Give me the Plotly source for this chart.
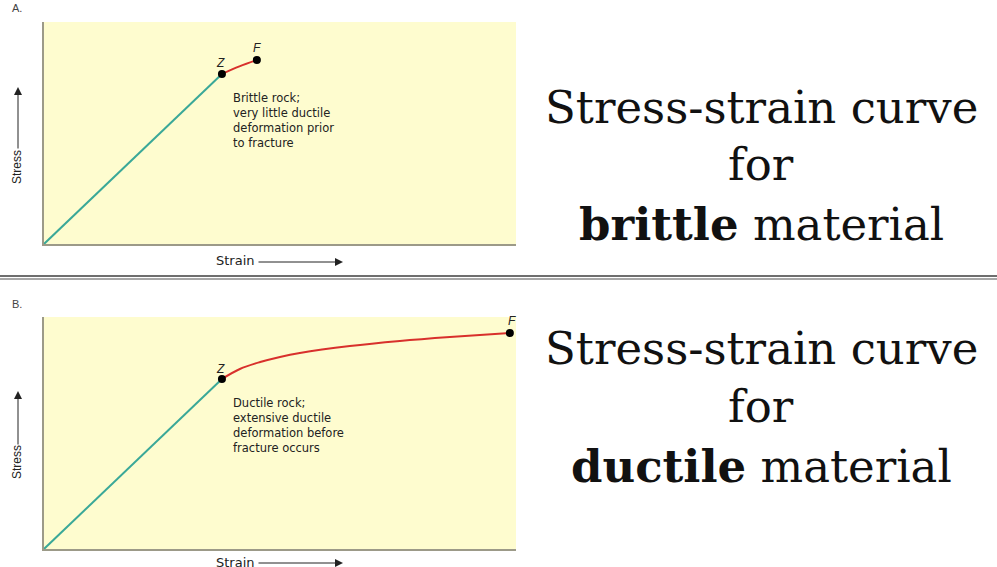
import plotly.graph_objects as go

W, H = 997, 567

# ---- data (strain, stress in arbitrary units 0-100) ----
brittle_elastic_x = [0, 37.7]
brittle_elastic_y = [0, 76.6]
brittle_plastic_x = [37.7, 41.4, 45.1]
brittle_plastic_y = [76.6, 80.0, 82.9]

ductile_elastic_x = [0, 37.7]
ductile_elastic_y = [0, 73.3]
ductile_plastic_x = [37.7, 41.5, 45.8, 50.0, 54.2, 64.8, 75.4, 86.0, 98.7]
ductile_plastic_y = [73.3, 77.6, 80.6, 82.8, 84.5, 87.5, 89.7, 91.4, 93.1]

point_labels = ["Z", "F"]
brittle_note = ["Brittle rock;", "very little ductile", "deformation prior", "to fracture"]
ductile_note = ["Ductile rock;", "extensive ductile", "deformation before", "fracture occurs"]
brittle_title = ["Stress-strain curve", "for", "<b>brittle</b> material"]
ductile_title = ["Stress-strain curve", "for", "<b>ductile</b> material"]

TEAL = "#3aa898"
RED = "#d8302c"
YELLOW = "#fefccf"
AXIS = "#9c9a88"


def px(x):
    return x / W


def py(y):
    return 1 - y / H


fig = go.Figure()

panels = [
    dict(xa="x", ya="y", ex=brittle_elastic_x, ey=brittle_elastic_y,
         pxs=brittle_plastic_x, pys=brittle_plastic_y),
    dict(xa="x2", ya="y2", ex=ductile_elastic_x, ey=ductile_elastic_y,
         pxs=ductile_plastic_x, pys=ductile_plastic_y),
]

for p in panels:
    fig.add_trace(go.Scatter(x=p["ex"], y=p["ey"], mode="lines",
                             line=dict(color=TEAL, width=2),
                             xaxis=p["xa"], yaxis=p["ya"], hoverinfo="skip",
                             cliponaxis=False))
    fig.add_trace(go.Scatter(x=p["pxs"], y=p["pys"], mode="lines",
                             line=dict(color=RED, width=2, shape="spline"),
                             xaxis=p["xa"], yaxis=p["ya"], hoverinfo="skip",
                             cliponaxis=False))
    fig.add_trace(go.Scatter(x=[p["pxs"][0], p["pxs"][-1]],
                             y=[p["pys"][0], p["pys"][-1]],
                             mode="markers",
                             marker=dict(color="black", size=8),
                             xaxis=p["xa"], yaxis=p["ya"], hoverinfo="skip",
                             cliponaxis=False))

axis_common = dict(range=[0, 100], showgrid=False, zeroline=False,
                   showticklabels=False, ticks="", showline=True,
                   linecolor=AXIS, linewidth=1.5, mirror=False, fixedrange=True)

fig.update_layout(
    width=W, height=H,
    margin=dict(l=0, r=0, t=0, b=0),
    paper_bgcolor="white",
    plot_bgcolor=YELLOW,
    showlegend=False,
    xaxis=dict(domain=[px(44), px(516)], anchor="y", **axis_common),
    yaxis=dict(domain=[py(244), py(22)], anchor="x", **axis_common),
    xaxis2=dict(domain=[px(44), px(516)], anchor="y2", **axis_common),
    yaxis2=dict(domain=[py(549), py(317)], anchor="x2", **axis_common),
)

ann = []
sans = "DejaVu Sans"

# Z / F point labels
for (xa, ya, xs, ys, shifts) in [
    ("x", "y", brittle_plastic_x, brittle_plastic_y, [(-1, 11), (0, 12)]),
    ("x2", "y2", ductile_plastic_x, ductile_plastic_y, [(-1, 10), (2, 12)]),
]:
    for lab, xv, yv, (dx, dy) in zip(point_labels, [xs[0], xs[-1]], [ys[0], ys[-1]], shifts):
        ann.append(dict(x=xv, y=yv, xref=xa, yref=ya, text=f"<i>{lab}</i>",
                        showarrow=False, xshift=dx, yshift=dy,
                        xanchor="center", yanchor="middle",
                        font=dict(family="Liberation Sans", size=12, color="#222")))

# descriptive notes
for lines, y_top in [(brittle_note, 89), (ductile_note, 394)]:
    ann.append(dict(x=px(231), y=py(y_top), xref="paper", yref="paper",
                    xanchor="left", yanchor="top", align="left",
                    text="<br>".join(lines), showarrow=False,
                    font=dict(family=sans, size=11.5, color="#222")))

# panel tags
for t, yc in [("A.", 8), ("B.", 304)]:
    ann.append(dict(x=px(10), y=py(yc), xref="paper", yref="paper",
                    xanchor="left", yanchor="middle", text=t, showarrow=False,
                    font=dict(family="Liberation Sans", size=11, color="#444")))

# stress captions with upward arrows
for (sy, ay_top, ay_bot) in [(167, 87, 150), (462, 391, 446)]:
    ann.append(dict(x=px(17), y=py(sy), xref="paper", yref="paper",
                    xanchor="center", yanchor="middle",
                    text="Stress", textangle=-90, showarrow=False,
                    font=dict(family="Liberation Sans", size=12, color="#222")))
    ann.append(dict(x=px(18), y=py(ay_top), xref="paper", yref="paper",
                    text="", showarrow=True, ax=0, ay=ay_bot - ay_top,
                    arrowhead=2, arrowsize=1.6, arrowwidth=1, arrowcolor="#222"))

# strain captions with rightward arrows
for sy in [261, 562]:
    ann.append(dict(x=px(257), y=py(sy), xref="paper", yref="paper",
                    xanchor="right", yanchor="middle",
                    text="Strain", showarrow=False,
                    font=dict(family=sans, size=13, color="#222")))
    ann.append(dict(x=px(343), y=py(sy + 1), xref="paper", yref="paper",
                    text="", showarrow=True, ax=-(343 - 257), ay=0,
                    arrowhead=2, arrowsize=1.6, arrowwidth=1, arrowcolor="#222"))

# large titles on the right
for lines, ys in [(brittle_title, [107, 165, 225]), (ductile_title, [348, 406, 466])]:
    for t, yc in zip(lines, ys):
        ann.append(dict(x=px(761), y=py(yc), xref="paper", yref="paper",
                        xanchor="center", yanchor="middle", text=t, showarrow=False,
                        font=dict(family="DejaVu Serif", size=45, color="#111")))

fig.update_layout(annotations=ann)

# double separator rule between the two panels
fig.update_layout(shapes=[
    dict(type="line", xref="paper", yref="paper", x0=0, x1=1, y0=py(276), y1=py(276),
         line=dict(color="#6e6e6e", width=2)),
    dict(type="line", xref="paper", yref="paper", x0=0, x1=1, y0=py(279), y1=py(279),
         line=dict(color="#8a8a8a", width=1.5)),
])

fig.write_html("out.html")
